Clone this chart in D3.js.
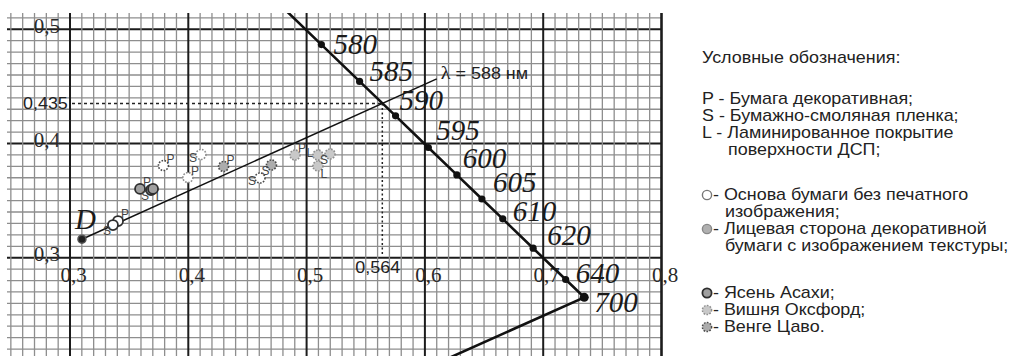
<!DOCTYPE html>
<html>
<head>
<meta charset="utf-8">
<script src="https://cdn.jsdelivr.net/npm/d3@7"></script>
<style>
  body { margin: 0; background: #fff; }
  svg { display: block; }
</style>
</head>
<body>
<div id="chart"></div>
<script>
(function(){
    // spectral locus (nm, x, y); 570/575 and 380 only run off the sheet
    var waves   = [570, 575, 580, 585, 590, 595, 600, 605, 610, 620, 640, 700, 380];
    var locusX  = [0.4441, 0.4788, 0.5125, 0.5448, 0.5752, 0.6029, 0.6270, 0.6482, 0.6658, 0.6915, 0.7190, 0.7347, 0.1741];
    var locusY  = [0.5547, 0.5202, 0.4866, 0.4544, 0.4242, 0.3965, 0.3725, 0.3514, 0.3340, 0.3083, 0.2809, 0.2653, 0.0050];
    var marked  = [580, 585, 590, 595, 600, 605, 610, 620, 640, 700];

    // white point D and the dominant wavelength construction
    var whiteD      = [0.3101, 0.3162];
    var dominant    = [0.564, 0.435];
    var lambdaEnd   = [0.610, 0.4566];
    var lambdaText  = '= 588 нм';

    var xTicks = [0.3, 0.4, 0.5, 0.6, 0.7, 0.8];
    var yTicks = [0.3, 0.4, 0.5];

    // measured samples
    var sampleX     = [0.3406, 0.3363, 0.3592, 0.3685, 0.3702, 0.3790, 0.3997, 0.4107, 0.4298, 0.4606, 0.4703, 0.4902, 0.5096, 0.5198, 0.5096];
    var sampleY     = [0.3321, 0.3286, 0.3602, 0.3593, 0.3602, 0.3807, 0.3702, 0.3904, 0.3799, 0.3698, 0.3812, 0.3899, 0.3899, 0.3908, 0.3803];
    var sampleMat   = ['P', 'S', 'P', 'S', 'L', 'P', 'P', 'S', 'P', 'S', 'S', 'P', 'L', 'S', 'L'];
    var sampleSide  = ['base', 'base', 'face', 'face', 'face', 'base', 'base', 'base', 'face', 'base', 'face', 'face', 'face', 'face', 'face'];
    var sampleDecor = ['ash', 'ash', 'ash', 'ash', 'ash', 'wenge', 'cherry', 'cherry', 'wenge', 'wenge', 'wenge', 'cherry', 'cherry', 'cherry', 'cherry'];

    var legendTitle = 'Условные обозначения:';
    var legendMat   = ['P - Бумага декоративная;', 'S - Бумажно-смоляная пленка;', 'L - Ламинированное покрытие', 'поверхности ДСП;'];
    var legendSide  = ['- Основа бумаги без печатного', 'изображения;', '- Лицевая сторона декоративной', 'бумаги с изображением текстуры;'];
    var legendDecor = ['- Ясень Асахи;', '- Вишня Оксфорд;', '- Венге Цаво.'];

    // ---- layout ----
    var WIDTH  = 1014,
        HEIGHT = 356,
        GRID_LEFT = 7,
        GRID_TOP  = 13,
        STRETCH   = 1.12;   // the scan's sans text is a little wide

    var SERIF = '"Liberation Serif", "Times New Roman", serif',
        SANS  = '"Liberation Sans", Arial, sans-serif';

    // where each wavelength number sits relative to its dot
    var waveNudge = {580: [12, 9], 585: [10, 0], 590: [4, -6], 595: [8, -7], 600: [6, -7],
                     605: [11, -7], 610: [10, 2], 620: [14, -3], 640: [10, 3], 700: [10, 15]};
    var labelAt = ['ne', 'sw', 'ne', 'sw', 'se', 'ne', 'ne', 'w', 'ne', 'w', 'sw', 'ne', 'nw', 'sw', 'se'];
    var nudge = {ne: [7, -7], sw: [-6, 6], se: [6, 8], w: [-8, 3], nw: [-8, -2]};

    var decorStyle = {
        ash:    {stroke: '#2e2e2e', dash: null,      fill: '#a0a0a0'},
        cherry: {stroke: '#8e8e8e', dash: '1.6,1.4', fill: '#c8c8c8'},
        wenge:  {stroke: '#4a4a4a', dash: '1.6,1.4', fill: '#acacac'}
    };

    var x = d3.scaleLinear().domain([0.3, 0.8]).range([70, 661.5]);
    var y = d3.scaleLinear().domain([0.3, 0.5]).range([257.7, 29.3]);
    var comma = function(v){ return d3.format('.1f')(v).replace('.', ','); };

    var svg = d3.select('#chart').append('svg')
        .attr('width', WIDTH)
        .attr('height', HEIGHT);

    svg.append('clipPath').attr('id', 'plot')
        .append('rect')
        .attr('x', GRID_LEFT).attr('y', GRID_TOP)
        .attr('width', x(0.8) - GRID_LEFT).attr('height', HEIGHT - GRID_TOP);

    // grid paper
    var grid = svg.append('g').attr('class', 'grid');
    var vLines = d3.range(25, 81).map(function(i){ return i / 100; });
    var hLines = d3.range(21, 52).map(function(i){ return i / 100; });
    var isMajor = function(v){ return Math.abs(v * 10 - Math.round(v * 10)) < 1e-6; };

    grid.selectAll('line.h')
        .data(hLines.filter(function(v){ return !isMajor(v); }).concat(hLines.filter(isMajor)))
        .enter().append('line')
        .attr('x1', GRID_LEFT).attr('x2', x(0.8))
        .attr('y1', function(d){ return y(d); }).attr('y2', function(d){ return y(d); })
        .attr('stroke', function(d){ return isMajor(d) ? '#1c1c1c' : '#8e8e8e'; })
        .attr('stroke-width', function(d){ return isMajor(d) ? 2 : 1.3; });

    grid.selectAll('line.v')
        .data(vLines.filter(function(v){ return !isMajor(v); }).concat(vLines.filter(isMajor)))
        .enter().append('line')
        .attr('y1', GRID_TOP).attr('y2', HEIGHT)
        .attr('x1', function(d){ return x(d); }).attr('x2', function(d){ return x(d); })
        .attr('stroke', function(d){ return isMajor(d) ? '#1c1c1c' : '#8e8e8e'; })
        .attr('stroke-width', function(d){ return Math.abs(d - 0.8) < 1e-6 ? 2.6 : (isMajor(d) ? 2 : 1.3); });

    // tick labels
    var xAxis = svg.append('g')
        .attr('transform', 'translate(3,' + y(0.3) + ')')
        .call(d3.axisBottom(x).tickValues(xTicks).tickFormat(comma).tickSize(0).tickPadding(9));
    var yAxis = svg.append('g')
        .attr('transform', 'translate(' + x(0.3) + ',0)')
        .call(d3.axisLeft(y).tickValues(yTicks).tickFormat(comma).tickSize(0).tickPadding(10));
    [xAxis, yAxis].forEach(function(a){
        a.select('.domain').remove();
        a.selectAll('text')
            .attr('font-family', SERIF)
            .attr('font-size', 21)
            .attr('fill', '#2a2a2a');
    });
    yAxis.selectAll('text').attr('dy', '0.14em');

    // dominant wavelength read-off
    svg.append('line')
        .attr('x1', x(0.3) + 2).attr('x2', x(dominant[0]))
        .attr('y1', y(dominant[1])).attr('y2', y(dominant[1]))
        .attr('stroke', '#222').attr('stroke-width', 1.5).attr('stroke-dasharray', '3,3');
    svg.append('line')
        .attr('x1', x(dominant[0])).attr('x2', x(dominant[0]))
        .attr('y1', y(dominant[1])).attr('y2', y(0.3) - 2)
        .attr('stroke', '#222').attr('stroke-width', 1.5).attr('stroke-dasharray', '2,2.5');

    var fmt3 = function(v){ return d3.format('.3f')(v).replace('.', ','); };
    svg.append('text')
        .attr('transform', 'translate(23,' + (y(dominant[1]) + 5) + ') scale(' + STRETCH + ',1)')
        .attr('font-family', SANS).attr('font-size', 16).attr('fill', '#222')
        .text(fmt3(dominant[1]));
    svg.append('text')
        .attr('transform', 'translate(' + (x(dominant[0]) - 27) + ',' + (y(0.3) + 15) + ') scale(' + STRETCH + ',1)')
        .attr('font-family', SANS).attr('font-size', 16).attr('fill', '#222')
        .text(fmt3(dominant[0]));

    var plot = svg.append('g').attr('clip-path', 'url(#plot)');

    plot.append('line')
        .attr('x1', x(whiteD[0])).attr('y1', y(whiteD[1]))
        .attr('x2', x(lambdaEnd[0])).attr('y2', y(lambdaEnd[1]))
        .attr('stroke', '#111').attr('stroke-width', 1.5);

    var locus = waves.map(function(w, i){ return {w: w, x: locusX[i], y: locusY[i]}; });
    plot.append('path')
        .datum(locus)
        .attr('d', d3.line().x(function(d){ return x(d.x); }).y(function(d){ return y(d.y); }))
        .attr('fill', 'none')
        .attr('stroke', '#111')
        .attr('stroke-width', 2.6);

    var dots = locus.filter(function(d){ return marked.indexOf(d.w) >= 0; });
    plot.selectAll('circle.wave')
        .data(dots).enter().append('circle')
        .attr('cx', function(d){ return x(d.x); })
        .attr('cy', function(d){ return y(d.y); })
        .attr('r', function(d){ return d.w === 700 ? 4.5 : 3.6; })
        .attr('fill', '#111');

    svg.selectAll('text.wave')
        .data(dots).enter().append('text')
        .attr('x', function(d){ return x(d.x) + waveNudge[d.w][0]; })
        .attr('y', function(d){ return y(d.y) + waveNudge[d.w][1]; })
        .attr('font-family', SERIF).attr('font-style', 'italic')
        .attr('font-size', 29).attr('fill', '#1a1a1a')
        .text(function(d){ return d.w; });

    // λ = 588 нм
    var lt = svg.append('text')
        .attr('transform', 'translate(' + (x(lambdaEnd[0]) + 4) + ',' + y(lambdaEnd[1]) + ') scale(' + STRETCH + ',1)')
        .attr('font-family', SANS).attr('font-size', 16).attr('fill', '#222');
    lt.append('tspan').attr('font-family', SERIF).attr('font-size', 18).text('λ ');
    lt.append('tspan').text(lambdaText);

    // white point D
    svg.append('circle')
        .attr('cx', x(whiteD[0])).attr('cy', y(whiteD[1])).attr('r', 4)
        .attr('fill', '#222').attr('stroke', '#555').attr('stroke-width', 1.5);
    svg.append('text')
        .attr('x', x(whiteD[0]) - 7).attr('y', y(whiteD[1]) - 10)
        .attr('font-family', SERIF).attr('font-style', 'italic')
        .attr('font-size', 29).attr('fill', '#1a1a1a')
        .text('D');

    // samples
    var samples = sampleX.map(function(v, i){
        return {x: v, y: sampleY[i], mat: sampleMat[i], side: sampleSide[i], decor: sampleDecor[i], at: labelAt[i]};
    });
    var sg = svg.append('g').attr('class', 'samples');
    sg.selectAll('circle')
        .data(samples).enter().append('circle')
        .attr('cx', function(d){ return x(d.x); })
        .attr('cy', function(d){ return y(d.y); })
        .attr('r', 5)
        .attr('fill', function(d){ return d.side === 'base' ? '#fff' : decorStyle[d.decor].fill; })
        .attr('stroke', function(d){ return decorStyle[d.decor].stroke; })
        .attr('stroke-dasharray', function(d){ return decorStyle[d.decor].dash; })
        .attr('stroke-width', function(d){ return d.decor === 'ash' ? 1.8 : 1.6; });
    sg.selectAll('text')
        .data(samples).enter().append('text')
        .attr('x', function(d){ return x(d.x) + nudge[d.at][0]; })
        .attr('y', function(d){ return y(d.y) + nudge[d.at][1]; })
        .attr('dy', '0.36em')
        .attr('text-anchor', 'middle')
        .attr('font-family', SANS).attr('font-size', 12).attr('fill', '#444')
        .text(function(d){ return d.mat; });

    // legend
    var LX = 702, LH = 17;
    var lg = svg.append('g');
    var lt2 = lg.append('g')
        .attr('transform', 'translate(' + LX + ',0) scale(' + STRETCH + ',1)')
        .attr('font-family', SANS).attr('font-size', 16).attr('fill', '#222');

    lt2.append('text').attr('x', 0).attr('y', 63).text(legendTitle);

    lt2.selectAll('text.mat')
        .data(legendMat).enter().append('text')
        .attr('x', function(d, i){ return i === 3 ? 26 / STRETCH : 0; })
        .attr('y', function(d, i){ return 104 + i * LH; })
        .text(function(d){ return d; });

    lt2.selectAll('text.side')
        .data(legendSide).enter().append('text')
        .attr('x', function(d, i){ return (i % 2 ? 23 : 11) / STRETCH; })
        .attr('y', function(d, i){ return 200 + i * LH; })
        .text(function(d){ return d; });

    lt2.selectAll('text.decor')
        .data(legendDecor).enter().append('text')
        .attr('x', 11 / STRETCH)
        .attr('y', function(d, i){ return 298 + i * LH; })
        .text(function(d){ return d; });

    var sideMarks = [{fill: '#fff', stroke: '#777'}, {fill: '#b0b0b0', stroke: '#888'}];
    lg.selectAll('circle.side')
        .data(sideMarks).enter().append('circle')
        .attr('cx', LX + 5)
        .attr('cy', function(d, i){ return 195 + i * 2 * LH; })
        .attr('r', 4.6)
        .attr('fill', function(d){ return d.fill; })
        .attr('stroke', function(d){ return d.stroke; })
        .attr('stroke-width', 1.4);

    var decors = ['ash', 'cherry', 'wenge'];
    lg.selectAll('circle.decor')
        .data(decors).enter().append('circle')
        .attr('cx', LX + 5)
        .attr('cy', function(d, i){ return 293 + i * LH; })
        .attr('r', 4.6)
        .attr('fill', function(d){ return decorStyle[d].fill; })
        .attr('stroke', function(d){ return decorStyle[d].stroke; })
        .attr('stroke-dasharray', function(d){ return decorStyle[d].dash; })
        .attr('stroke-width', function(d){ return d === 'ash' ? 1.8 : 1.5; });
})();
</script>
</body>
</html>
